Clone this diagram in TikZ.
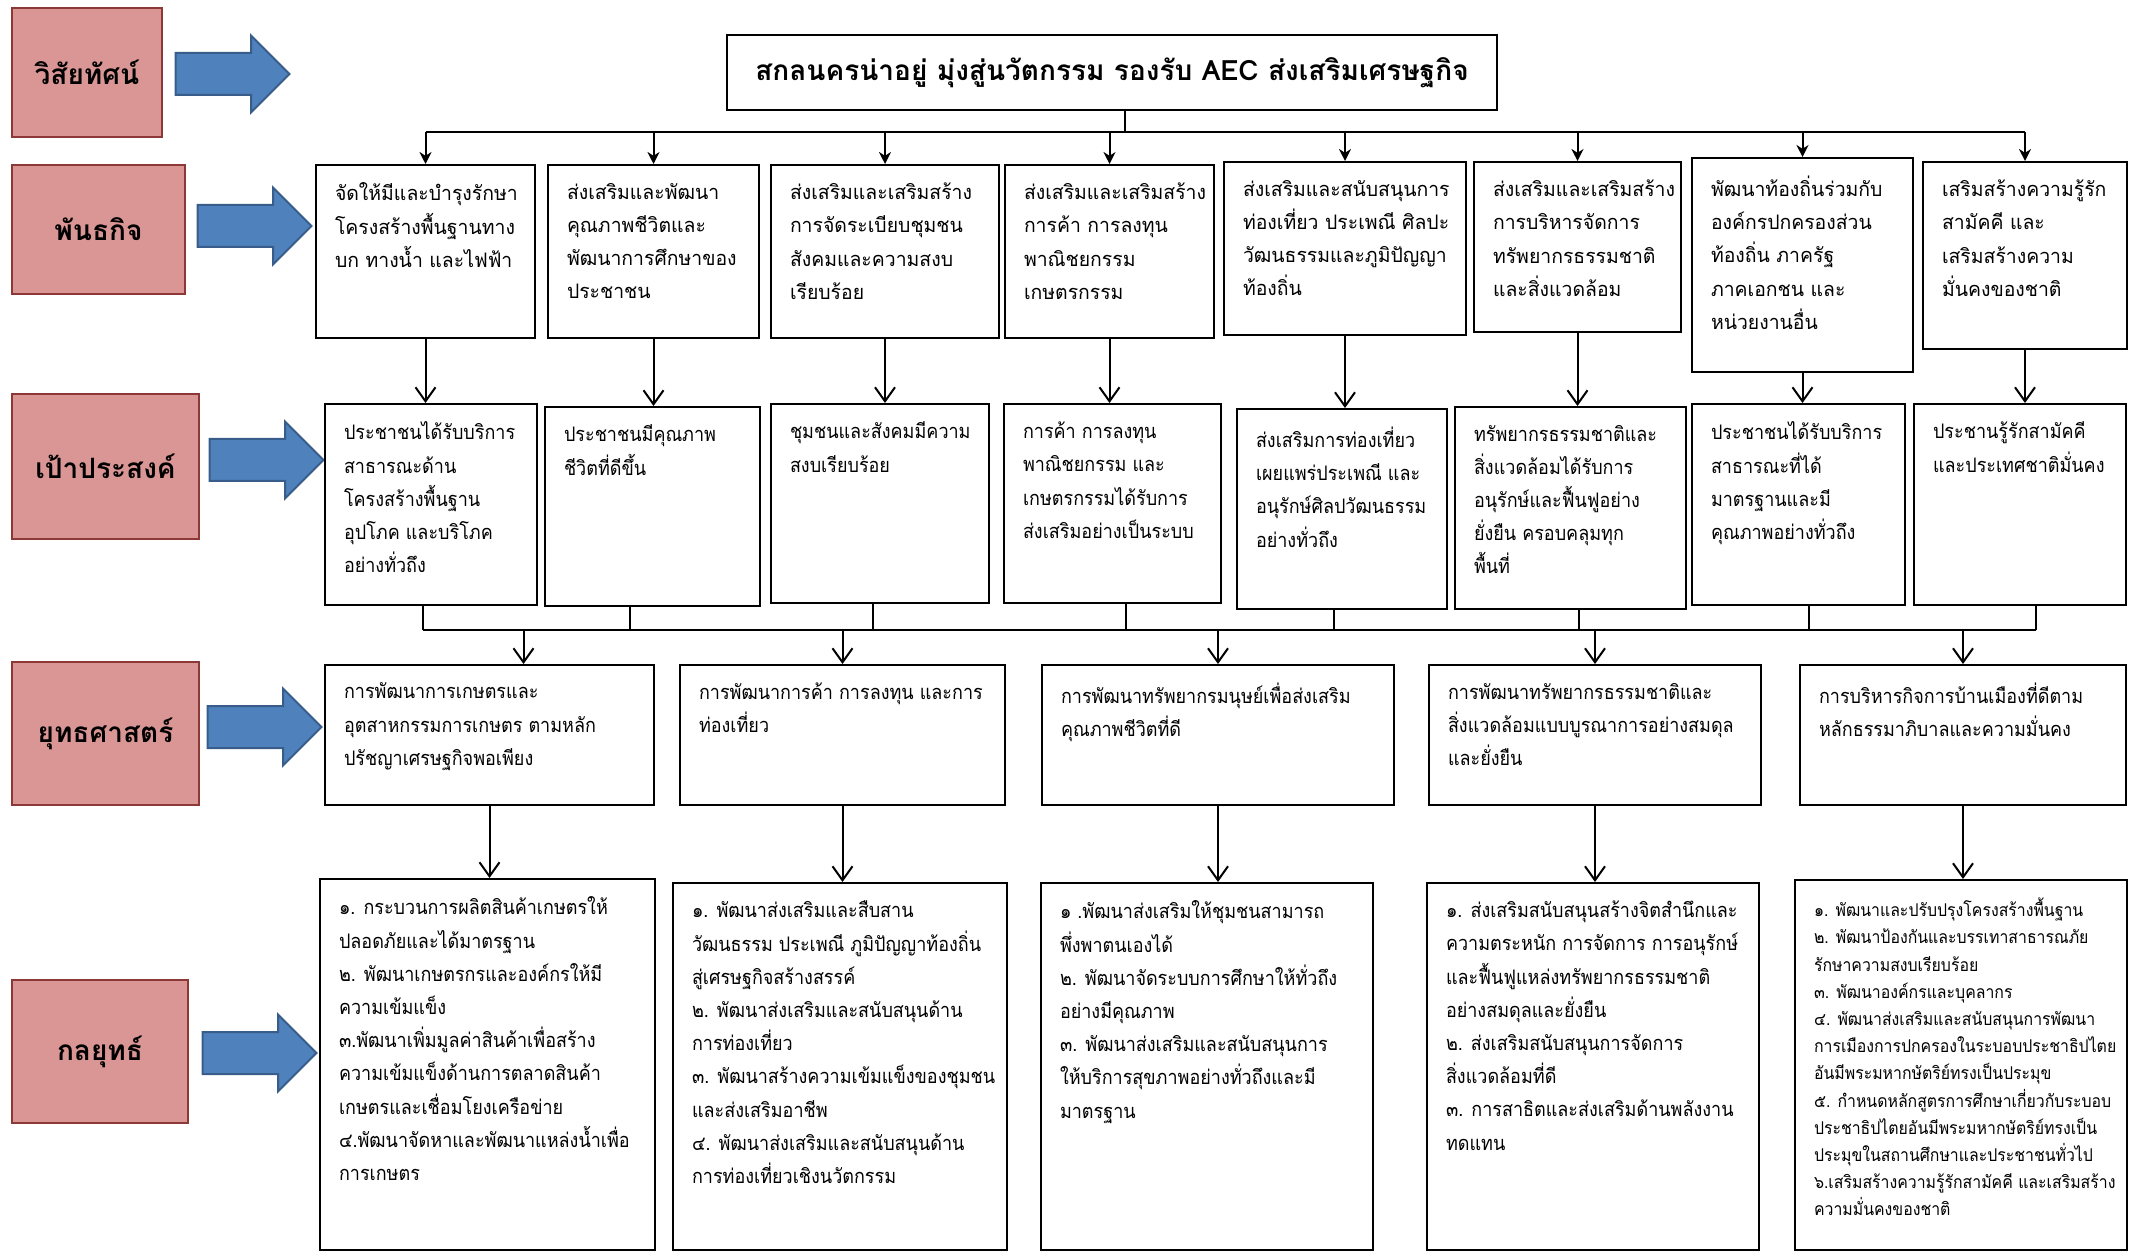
\documentclass[tikz,border=0pt]{standalone}
\usepackage{fontspec}
\newfontfamily\thaifont[Script=Thai]{Loma}
\newfontfamily\thaibox[Script=Thai, FakeStretch=0.9]{Loma}
\newfontfamily\thaiwide[Script=Thai, FakeStretch=0.97]{Loma}
\usetikzlibrary{shapes,shapes.arrows,arrows.meta,calc,positioning}

\definecolor{tagfill}{HTML}{D99694}
\definecolor{tagline}{HTML}{8C3836}
\definecolor{arrowfill}{HTML}{4F81BD}
\definecolor{arrowline}{HTML}{385D8A}

\begin{document}
\begin{tikzpicture}[x=0.5pt, y=-0.5pt, line width=1pt,
  cell/.style 2 args={draw, anchor=north west, inner sep=0pt,
    minimum width=#1*0.5pt, minimum height=#2*0.5pt},
  txt/.style={anchor=north west, inner xsep=9.5pt, inner ysep=9pt, align=left,
    font=\thaibox\fontsize{10}{16.6}\selectfont},
  wtxt/.style={txt, font=\thaiwide\fontsize{10}{16.6}\selectfont},
  tag/.style 2 args={cell={#1}{#2}, draw=tagline, fill=tagfill,
    font=\thaifont\bfseries\fontsize{14}{16}\selectfont},
  bigarrow/.style={single arrow, draw=arrowline, fill=arrowfill,
    inner xsep=0pt, inner ysep=10pt, single arrow head extend=8.75pt,
    minimum height=57pt, minimum width=37.5pt},
  feed/.style={-{Stealth[length=6pt,width=6pt]}},
  vhead/.style={-{Straight Barb[length=7pt,width=10pt]}}]

\useasboundingbox (0,0) rectangle (2137,1251);

% row labels
\node[tag={150}{129}] (vision) at (11,7) {วิสัยทัศน์};
\node[tag={173}{129}] (mission) at (11,164) {พันธกิจ};
\node[tag={187}{145}] (goal) at (11,393) {เป้าประสงค์};
\node[tag={187}{143}] (strategy) at (11,661) {ยุทธศาสตร์};
\node[tag={176}{143}] (tactic) at (11,979) {กลยุทธ์};

\node[bigarrow] (av) at (222,74) {};
\node[bigarrow] (am) at (244,226) {};
\node[bigarrow] (ag) at (256,460) {};
\node[bigarrow] (as) at (254,727) {};
\node[bigarrow] (at) at (249,1053) {};

% vision
\node[cell={770}{75}, font=\thaifont\bfseries\fontsize{14}{16}\selectfont] (title) at (726,34)
  {สกลนครน่าอยู่ มุ่งสู่นวัตกรรม รองรับ AEC ส่งเสริมเศรษฐกิจ};

% mission
\node[cell={219}{173}] (m1) at (315,164) {};
\node[wtxt] (m1t) at (m1.north west) {จัดให้มีและบำรุงรักษา\\โครงสร้างพื้นฐานทาง\\บก ทางน้ำ และไฟฟ้า};
\node[cell={211}{173}] (m2) at (547,164) {};
\node[wtxt] (m2t) at (m2.north west) {ส่งเสริมและพัฒนา\\คุณภาพชีวิตและ\\พัฒนาการศึกษาของ\\ประชาชน};
\node[cell={228}{173}] (m3) at (770,164) {};
\node[wtxt] (m3t) at (m3.north west) {ส่งเสริมและเสริมสร้าง\\การจัดระเบียบชุมชน\\สังคมและความสงบ\\เรียบร้อย};
\node[cell={209}{173}] (m4) at (1004,164) {};
\node[wtxt] (m4t) at (m4.north west) {ส่งเสริมและเสริมสร้าง\\การค้า การลงทุน\\พาณิชยกรรม\\เกษตรกรรม};
\node[cell={242}{173}] (m5) at (1223,161) {};
\node[wtxt] (m5t) at (m5.north west) {ส่งเสริมและสนับสนุนการ\\ท่องเที่ยว ประเพณี ศิลปะ\\วัฒนธรรมและภูมิปัญญา\\ท้องถิ่น};
\node[cell={207}{170}] (m6) at (1473,161) {};
\node[wtxt] (m6t) at (m6.north west) {ส่งเสริมและเสริมสร้าง\\การบริหารจัดการ\\ทรัพยากรธรรมชาติ\\และสิ่งแวดล้อม};
\node[cell={221}{214}] (m7) at (1691,157) {};
\node[wtxt] (m7t) at (m7.north west) {พัฒนาท้องถิ่นร่วมกับ\\องค์กรปกครองส่วน\\ท้องถิ่น ภาครัฐ\\ภาคเอกชน และ\\หน่วยงานอื่น};
\node[cell={204}{187}] (m8) at (1922,161) {};
\node[wtxt] (m8t) at (m8.north west) {เสริมสร้างความรู้รัก\\สามัคคี และ\\เสริมสร้างความ\\มั่นคงของชาติ};

% goals
\node[cell={212}{201}] (g1) at (324,403) {};
\node[txt] (g1t) at (g1.north west) {ประชาชนได้รับบริการ\\สาธารณะด้าน\\โครงสร้างพื้นฐาน\\อุปโภค และบริโภค\\อย่างทั่วถึง};
\node[cell={215}{199}] (g2) at (544,406) {};
\node[txt] (g2t) at (g2.north west) {ประชาชนมีคุณภาพ\\ชีวิตที่ดีขึ้น};
\node[cell={218}{199}] (g3) at (770,403) {};
\node[txt] (g3t) at (g3.north west) {ชุมชนและสังคมมีความ\\สงบเรียบร้อย};
\node[cell={217}{199}] (g4) at (1003,403) {};
\node[txt] (g4t) at (g4.north west) {การค้า การลงทุน\\พาณิชยกรรม และ\\เกษตรกรรมได้รับการ\\ส่งเสริมอย่างเป็นระบบ};
\node[cell={210}{200}] (g5) at (1236,408) {};
\node[txt] (g5t) at (g5.north west) {ส่งเสริมการท่องเที่ยว\\เผยแพร่ประเพณี และ\\อนุรักษ์ศิลปวัฒนธรรม\\อย่างทั่วถึง};
\node[cell={231}{202}] (g6) at (1454,406) {};
\node[txt] (g6t) at (g6.north west) {ทรัพยากรธรรมชาติและ\\สิ่งแวดล้อมได้รับการ\\อนุรักษ์และฟื้นฟูอย่าง\\ยั่งยืน ครอบคลุมทุก\\พื้นที่};
\node[cell={213}{201}] (g7) at (1691,403) {};
\node[txt] (g7t) at (g7.north west) {ประชาชนได้รับบริการ\\สาธารณะที่ได้\\มาตรฐานและมี\\คุณภาพอย่างทั่วถึง};
\node[cell={212}{201}] (g8) at (1913,403) {};
\node[txt] (g8t) at (g8.north west) {ประชานรู้รักสามัคคี\\และประเทศชาติมั่นคง};

% strategies
\node[cell={329}{140}] (s1) at (324,664) {};
\node[txt] (s1t) at (s1.north west) {การพัฒนาการเกษตรและ\\อุตสาหกรรมการเกษตร ตามหลัก\\ปรัชญาเศรษฐกิจพอเพียง};
\node[cell={325}{140}] (s2) at (679,664) {};
\node[txt] (s2t) at (s2.north west) {การพัฒนาการค้า การลงทุน และการ\\ท่องเที่ยว};
\node[cell={352}{140}] (s3) at (1041,664) {};
\node[txt] (s3t) at (s3.north west) {การพัฒนาทรัพยากรมนุษย์เพื่อส่งเสริม\\คุณภาพชีวิตที่ดี};
\node[cell={332}{140}] (s4) at (1428,664) {};
\node[txt] (s4t) at (s4.north west) {การพัฒนาทรัพยากรธรรมชาติและ\\สิ่งแวดล้อมแบบบูรณาการอย่างสมดุล\\และยั่งยืน};
\node[cell={326}{140}] (s5) at (1799,664) {};
\node[txt] (s5t) at (s5.north west) {การบริหารกิจการบ้านเมืองที่ดีตาม\\หลักธรรมาภิบาลและความมั่นคง};

% tactics
\node[cell={335}{371}] (t1) at (319,878) {};
\node[txt] (t1t) at (t1.north west) {๑. กระบวนการผลิตสินค้าเกษตรให้\\ปลอดภัยและได้มาตรฐาน\\๒. พัฒนาเกษตรกรและองค์กรให้มี\\ความเข้มแข็ง\\๓.พัฒนาเพิ่มมูลค่าสินค้าเพื่อสร้าง\\ความเข้มแข็งด้านการตลาดสินค้า\\เกษตรและเชื่อมโยงเครือข่าย\\๔.พัฒนาจัดหาและพัฒนาแหล่งน้ำเพื่อ\\การเกษตร};
\node[cell={334}{367}] (t2) at (672,882) {};
\node[txt] (t2t) at (t2.north west) {๑. พัฒนาส่งเสริมและสืบสาน\\วัฒนธรรม ประเพณี ภูมิปัญญาท้องถิ่น\\สู่เศรษฐกิจสร้างสรรค์\\๒. พัฒนาส่งเสริมและสนับสนุนด้าน\\การท่องเที่ยว\\๓. พัฒนาสร้างความเข้มแข็งของชุมชน\\และส่งเสริมอาชีพ\\๔. พัฒนาส่งเสริมและสนับสนุนด้าน\\การท่องเที่ยวเชิงนวัตกรรม};
\node[cell={332}{367}] (t3) at (1040,882) {};
\node[txt] (t3t) at (t3.north west) {๑ .พัฒนาส่งเสริมให้ชุมชนสามารถ\\พึ่งพาตนเองได้\\๒. พัฒนาจัดระบบการศึกษาให้ทั่วถึง\\อย่างมีคุณภาพ\\๓. พัฒนาส่งเสริมและสนับสนุนการ\\ให้บริการสุขภาพอย่างทั่วถึงและมี\\มาตรฐาน};
\node[cell={332}{367}] (t4) at (1426,882) {};
\node[txt] (t4t) at (t4.north west) {๑. ส่งเสริมสนับสนุนสร้างจิตสำนึกและ\\ความตระหนัก การจัดการ การอนุรักษ์\\และฟื้นฟูแหล่งทรัพยากรธรรมชาติ\\อย่างสมดุลและยั่งยืน\\๒. ส่งเสริมสนับสนุนการจัดการ\\สิ่งแวดล้อมที่ดี\\๓. การสาธิตและส่งเสริมด้านพลังงาน\\ทดแทน};
\node[cell={332}{370}] (t5) at (1794,879) {};
\node[txt, font=\thaibox\fontsize{8.8}{13.6}\selectfont] (t5t) at (t5.north west) {๑. พัฒนาและปรับปรุงโครงสร้างพื้นฐาน\\๒. พัฒนาป้องกันและบรรเทาสาธารณภัย\\รักษาความสงบเรียบร้อย\\๓. พัฒนาองค์กรและบุคลากร\\๔. พัฒนาส่งเสริมและสนับสนุนการพัฒนา\\การเมืองการปกครองในระบอบประชาธิปไตย\\อันมีพระมหากษัตริย์ทรงเป็นประมุข\\๕. กำหนดหลักสูตรการศึกษาเกี่ยวกับระบอบ\\ประชาธิปไตยอันมีพระมหากษัตริย์ทรงเป็น\\ประมุขในสถานศึกษาและประชาชนทั่วไป\\๖.เสริมสร้างความรู้รักสามัคคี และเสริมสร้าง\\ความมั่นคงของชาติ};

% connectors
\coordinate (topbus) at (1125,132);
\coordinate (midbus) at (0,630);
\draw (title.south -| topbus) -- (topbus);
\draw (topbus -| m1.north) -- (topbus -| m8.north);
\foreach \i in {1,...,8}
  \draw[feed] (topbus -| m\i.north) -- (m\i.north);
\foreach \i in {1,...,8}
  \draw[vhead] (m\i.south) -- (m\i.south |- g\i.north);
\foreach \i/\dx in {1/-4,2/-11.5,3/-3.5,4/6.5,5/-4,6/4,7/5,8/8}
  \draw ([xshift=\dx pt]g\i.south) -- ([xshift=\dx pt]g\i.south |- midbus);
\draw ([xshift=-4pt]g1.south |- midbus) -- ([xshift=8pt]g8.south |- midbus);
\foreach \i/\dx in {1/17,2/0,3/0,4/0,5/0}
  \draw[vhead] ([xshift=\dx pt]s\i.north |- midbus) -- ([xshift=\dx pt]s\i.north);
\foreach \i in {1,...,5}
  \draw[vhead] (s\i.south) -- (s\i.south |- t\i.north);

\end{tikzpicture}
\end{document}
